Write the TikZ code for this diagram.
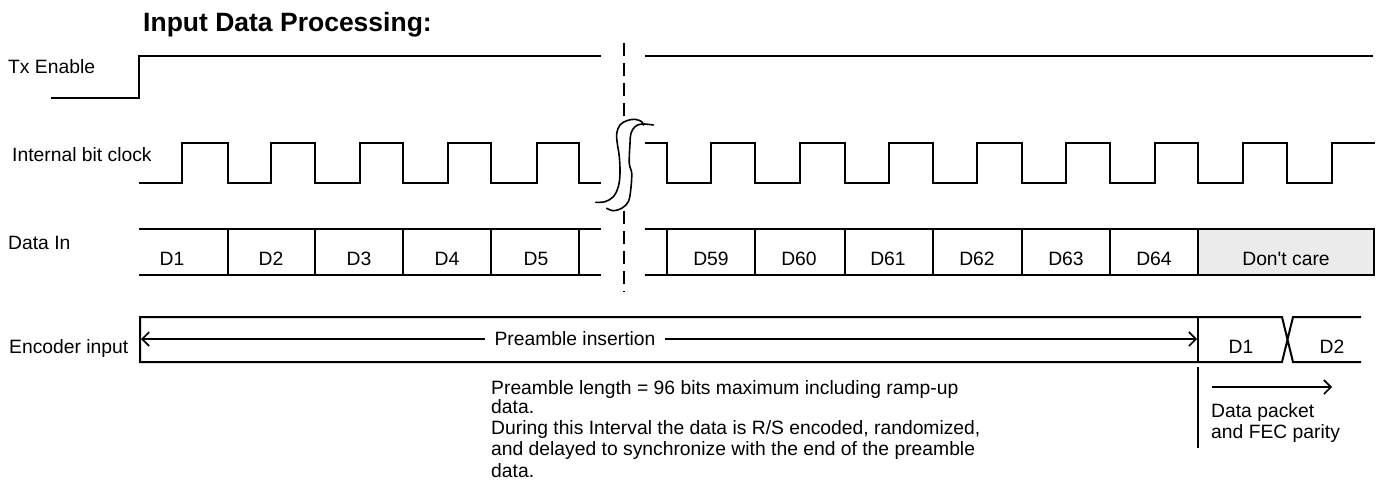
\documentclass[tikz,border=0pt]{standalone}
\usepackage{fontspec}
\setmainfont{Liberation Sans}[Ligatures=TeXOff]
\usetikzlibrary{arrows.meta}
\tikzset{
  lbl/.style={anchor=base west, inner sep=0pt, font=\fontsize{19.3}{21}\selectfont},
  celltext/.style={anchor=base, inner sep=0pt, font=\fontsize{19.3}{21}\selectfont},
  sig/.style={line width=2pt, line join=miter, line cap=rect},
  thinline/.style={line width=1.6pt, line cap=round},
  breakdash/.style={line width=2pt, dash pattern=on 13pt off 7pt},
  barbtip/.tip={Straight Barb[length=7pt,width=14pt,line width=1.6pt]},
}
\begin{document}
\begin{tikzpicture}[x=1pt,y=-1pt]
\useasboundingbox (0,0) rectangle (1382,491);
% title
\node[anchor=base west, inner sep=0pt, font=\fontsize{26.5}{30}\selectfont\bfseries] (title) at (143,31) {Input Data Processing:};
% labels
\node[lbl] (txlbl) at (8,73.5) {Tx Enable};
\node[lbl] (clklbl) at (12,161.5) {Internal bit clock};
\node[lbl] (datalbl) at (8,249.5) {Data In};
\node[lbl] (enclbl) at (9,353) {Encoder input};
% Tx enable
\draw[sig] (52,98) -- (139,98) -- (139,56) -- (600,56);
\draw[sig] (646,56) -- (1372,56);
% clock left
\draw[sig] (140,183)
  \foreach \r/\f in {182/228, 271/315, 360/403, 448/491, 537/579} { -- (\r,183) -- (\r,143) -- (\f,143) -- (\f,183) }
  -- (600,183);
% clock right
\draw[sig] (646,143) -- (667,143) -- (667,183)
  \foreach \r/\f in {711/755, 800/845, 889/933, 977/1022, 1066/1110, 1155/1198, 1243/1287} { -- (\r,183) -- (\r,143) -- (\f,143) -- (\f,183) }
  -- (1332,183) -- (1332,143) -- (1374,143);
% data in
\fill[black!8] (1198,229) rectangle (1374,275);
\draw[sig] (140,229) -- (600,229);
\draw[sig] (140,275) -- (600,275);
\draw[sig] (646,229) -- (1374,229);
\draw[sig] (646,275) -- (1374,275);
\foreach \x in {228,315,403,491,579,667,755,845,933,1022,1110,1198,1374}
  \draw[sig] (\x,229) -- (\x,275);
\node[celltext] (d1) at (172,265.5) {D1};
\node[celltext] (d2) at (271,265.5) {D2};
\node[celltext] (d3) at (359,265.5) {D3};
\node[celltext] (d4) at (447,265.5) {D4};
\node[celltext] (d5) at (536,265.5) {D5};
\node[celltext] (d59) at (711,265.5) {D59};
\node[celltext] (d60) at (799,265.5) {D60};
\node[celltext] (d61) at (888,265.5) {D61};
\node[celltext] (d62) at (977,265.5) {D62};
\node[celltext] (d63) at (1066,265.5) {D63};
\node[celltext] (d64) at (1154,265.5) {D64};
\node[celltext] (dc) at (1286,265.5) {Don't care};
% break line
\draw[breakdash] (624,43) -- (624,117);
\draw[breakdash] (624,211) -- (624,292);
\draw[thinline] plot[smooth, tension=0.6] coordinates {(595.7,202.3) (605,201.7) (613.3,196.7) (618.3,186.7) (620,173.3) (619.3,156.7) (617.3,143.3) (616.7,133.3) (620,125) (626.7,120.7) (635,119.3) (641.7,121.7) (643.3,125)};
\draw[thinline] plot[smooth, tension=0.6] coordinates {(606.7,208.3) (613.3,210.7) (621.7,208.3) (628.3,201.7) (630.7,190) (631.7,173.3) (629.3,163.3) (630,143.3) (631,133.3) (635,126.7) (641.7,124) (653.3,125)};
% encoder input
\draw[sig] (1360,317) -- (1293,317) -- (1282,362) -- (140,362) -- (140,317) -- (1282,317) -- (1293,362) -- (1360,362);
\draw[sig] (1198,317) -- (1198,362);
\coordinate (preL) at (141,339);
\coordinate (preR) at (1197,339);
\draw[line width=2pt, barbtip-barbtip] (preL) -- (preR);
\node[celltext, fill=white, inner xsep=10pt, inner ysep=3pt] (pre) at (575,345.5) {Preamble insertion};
\node[celltext] (e1) at (1241,353) {D1};
\node[celltext] (e2) at (1332,353) {D2};
\draw[sig] (1198,368) -- (1198,447);
\coordinate (dpA) at (1212,387);
\coordinate (dpB) at (1332,387);
\draw[line width=2pt, -barbtip] (dpA) -- (dpB);
\node[lbl] (dp1) at (1211,417) {Data packet};
\node[lbl] (dp2) at (1211,438) {and FEC parity};
% note
\node[lbl] (n1) at (491,394) {Preamble length = 96 bits maximum including ramp-up};
\node[lbl] (n2) at (491,413) {data.};
\node[lbl] (n3) at (491,434) {During this Interval the data is R/S encoded, randomized,};
\node[lbl] (n4) at (491,455) {and delayed to synchronize with the end of the preamble};
\node[lbl] (n5) at (491,477) {data.};
\end{tikzpicture}
\end{document}
